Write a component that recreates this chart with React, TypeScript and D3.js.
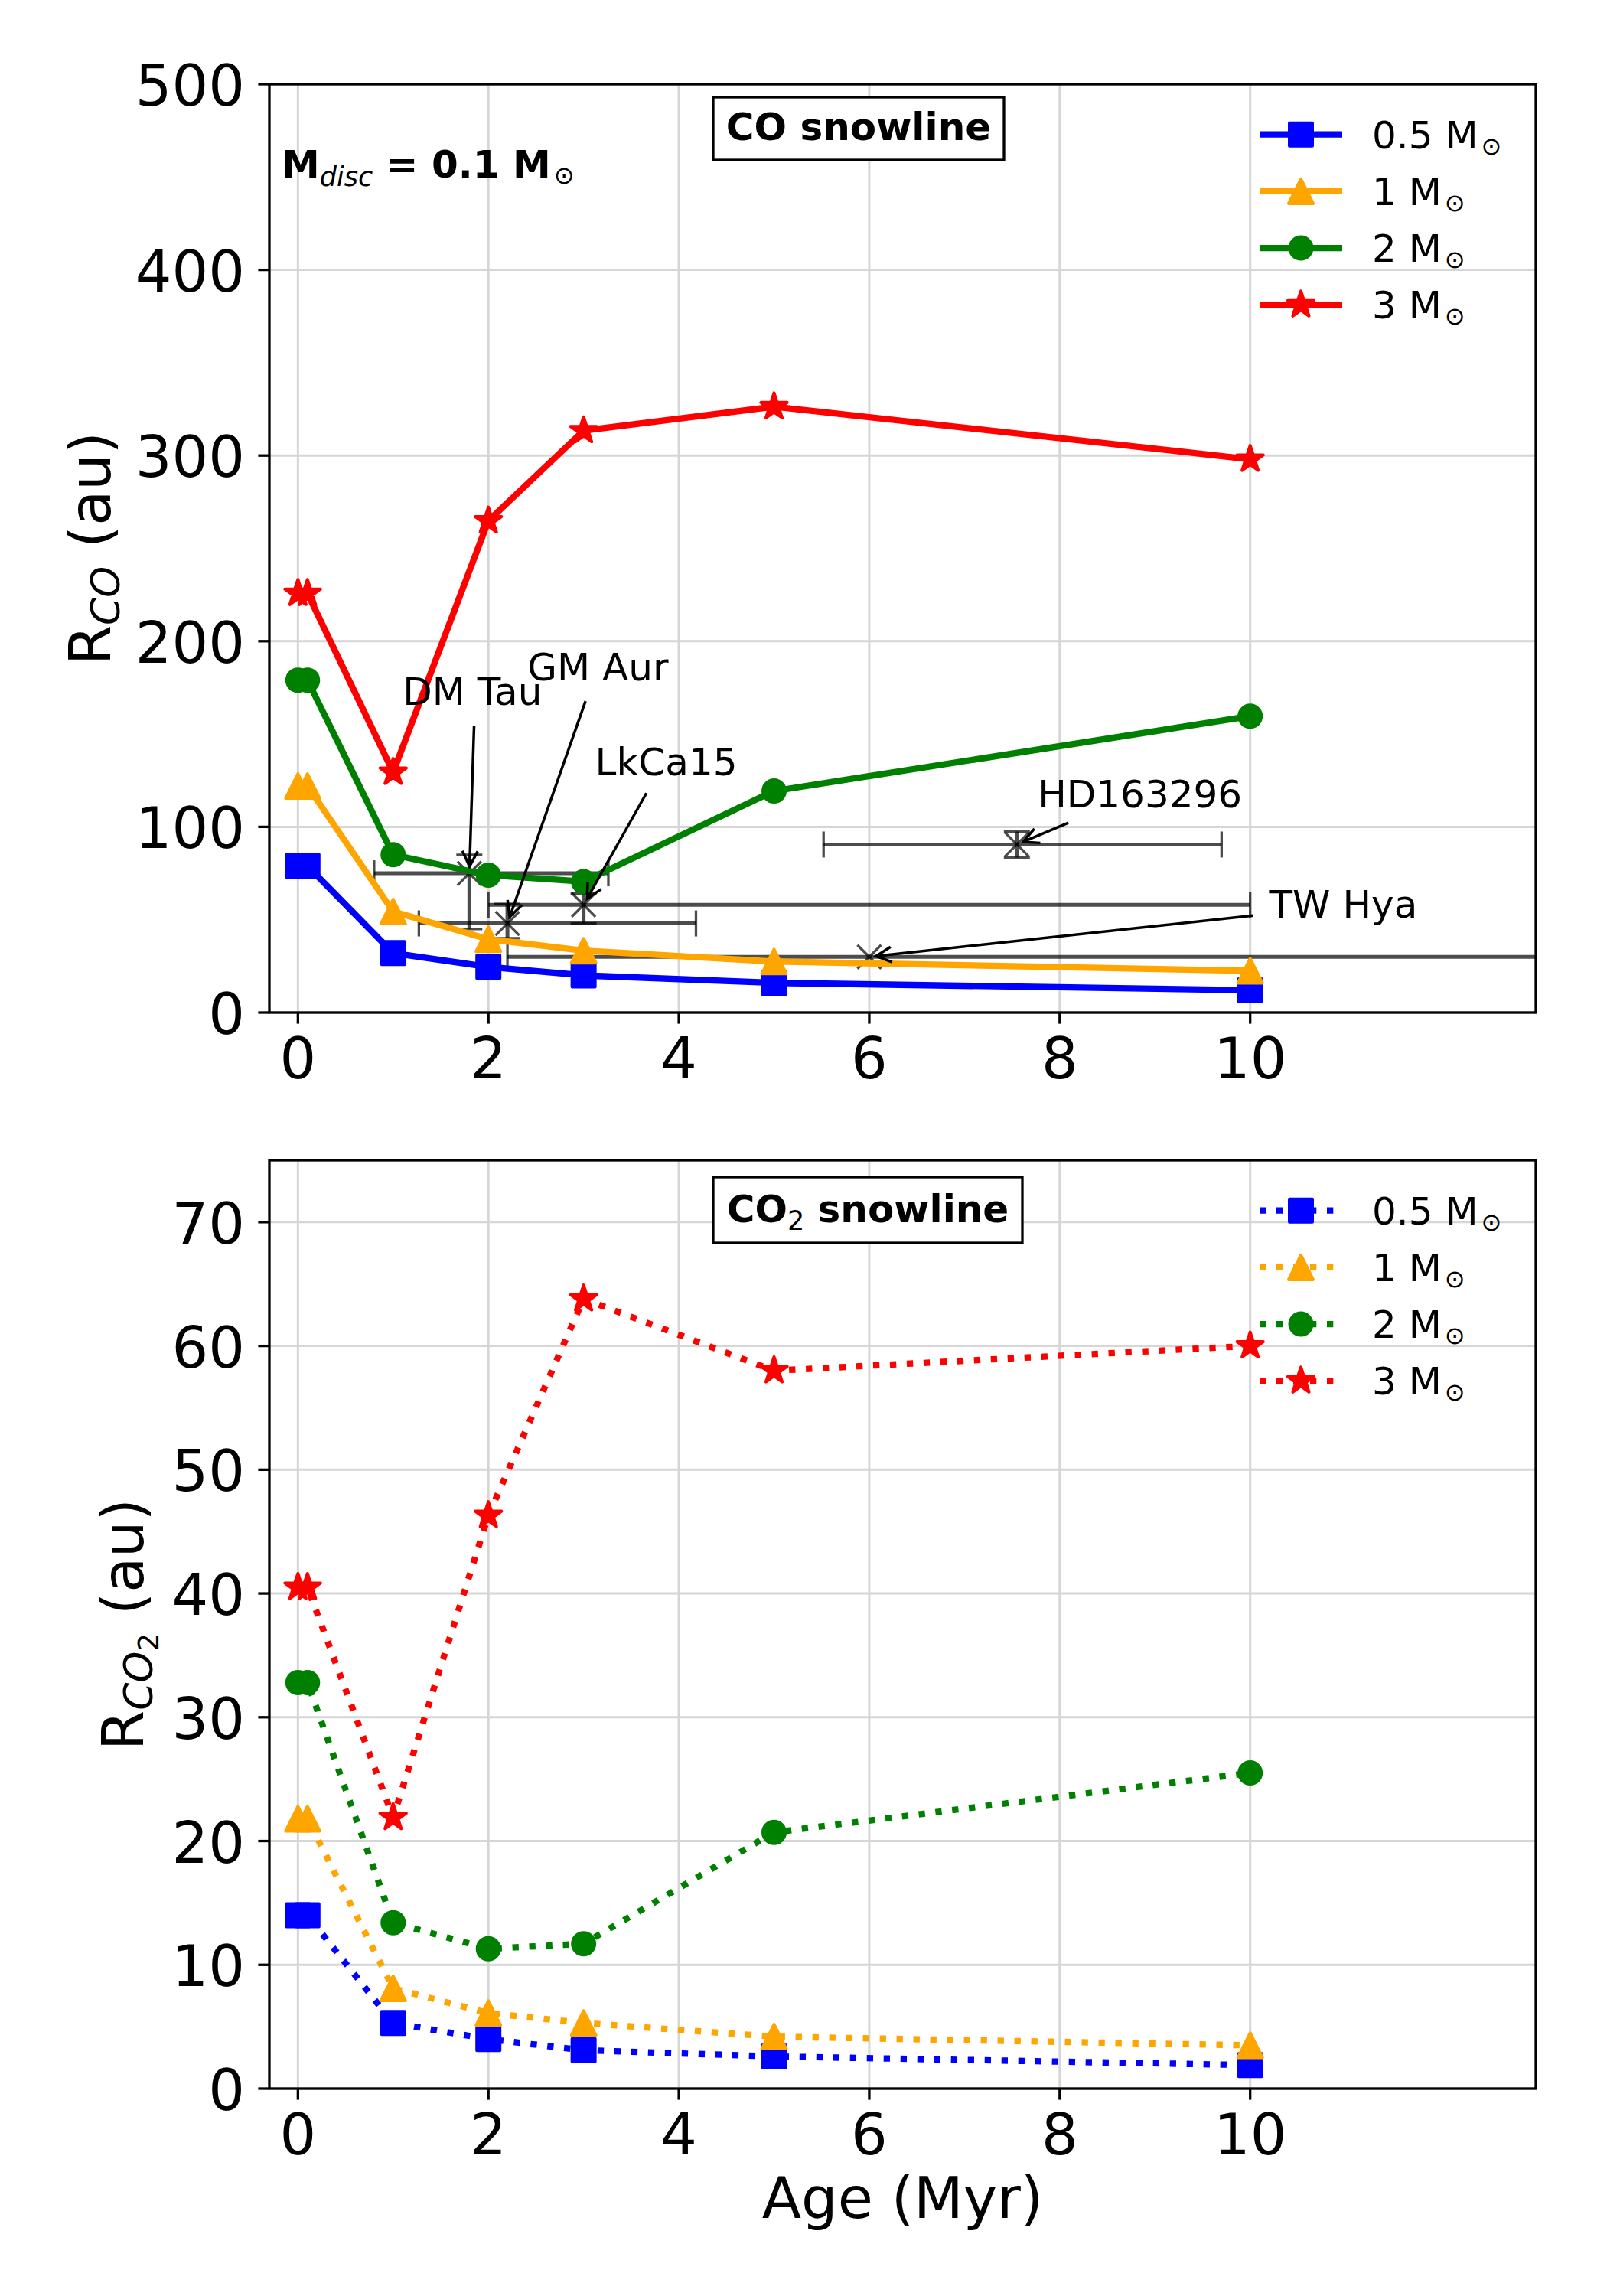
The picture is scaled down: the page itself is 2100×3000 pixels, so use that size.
import { useEffect } from 'react';
import * as d3 from 'd3';

// model ages (Myr); first two points sit almost on top of each other
const ages = [0, 0.1, 1, 2, 3, 5, 10];
const starMasses = ['0.5', '1', '2', '3'];
const seriesColors = ['blue', 'orange', 'green', 'red'];
const seriesMarkers = ['square', 'triangle', 'circle', 'star'];

// CO snowline radius (au)
const rCO_05 = [79, 79, 32, 24.6, 20, 16, 12];
const rCO_1 = [122, 122, 54.4, 39.5, 33.3, 27.5, 22.5];
const rCO_2 = [179, 179, 85, 74, 70.5, 119.3, 159.6];
const rCO_3 = [225.8, 225.8, 129.4, 264.8, 313.4, 326.3, 298];

// CO2 snowline radius (au)
const rCO2_05 = [14, 14, 5.3, 4, 3.1, 2.6, 1.9];
const rCO2_1 = [21.8, 21.8, 8.1, 6.1, 5.3, 4.2, 3.5];
const rCO2_2 = [32.8, 32.8, 13.4, 11.3, 11.7, 20.7, 25.5];
const rCO2_3 = [40.5, 40.5, 21.9, 46.3, 63.8, 58, 60];

// observed discs
const obsNames = ['DM Tau', 'GM Aur', 'LkCa15', 'HD163296', 'TW Hya'];
const obsAge = [1.8, 2.2, 3.0, 7.55, 6];
const obsR = [75, 48, 58, 90.5, 30];
const obsAgeLo = [1.0, 0.93, 1.0, 2.03, 3.8];
const obsAgeHi = [1.46, 1.98, 7.0, 2.15, 8];
const obsRLo = [30, 8, 10, 7, 0];
const obsRHi = [10, 10.5, 6, 7, 0];
// annotation text (left, baseline) and arrow tail, data coords
const labelAge = [1.1, 2.41, 3.12, 7.77, 10.2];
const labelR = [165.6, 178.8, 127.9, 110.4, 51];
const tailAge = [1.85, 3.02, 3.66, 8.09, 10.03];
const tailR = [154.5, 167.7, 118.2, 102.2, 52.2];

const xTicks = [0, 2, 4, 6, 8, 10];
const yTicksCO = [0, 100, 200, 300, 400, 500];
const yTicksCO2 = [0, 10, 20, 30, 40, 50, 60, 70];

const W = 2100;
const H = 3000;
const left = 352;
const right = 2007;
const font = 'DejaVu Sans';
const sun = '\u2299';

function markerPath(kind: string): string {
  if (kind === 'square') return 'M-15,-15H15V15H-15Z';
  if (kind === 'triangle') return 'M0,-16L16,16L-16,16Z';
  if (kind === 'star') {
    const pts = d3.range(10).map(i => {
      const a = -Math.PI / 2 + (i * Math.PI) / 5;
      const r = i % 2 === 0 ? 18 : 18 * 0.381966;
      return `${(r * Math.cos(a)).toFixed(2)},${(r * Math.sin(a)).toFixed(2)}`;
    });
    return 'M' + pts.join('L') + 'Z';
  }
  return d3.symbol().type(d3.symbolCircle).size(Math.PI * 14.5 * 14.5)() as string;
}

function Panel({ id, top, bottom, yMax, yTicks, values, dotted, obs }: {
  id: string; top: number; bottom: number; yMax: number; yTicks: number[];
  values: number[][]; dotted: boolean; obs: boolean;
}) {
  const x = d3.scaleLinear().domain([-0.3, 13]).range([left, right]);
  const y = d3.scaleLinear().domain([0, yMax]).range([bottom, top]);
  const line = d3.line<number>().x((_, i) => x(ages[i])).y(d => y(d));
  const dash = dotted ? '8.3 13.7' : undefined;
  const errCol = 'black';
  const errOp = 0.7;

  return (
    <g>
      <defs>
        <clipPath id={id}>
          <rect x={left} y={top} width={right - left} height={bottom - top} />
        </clipPath>
      </defs>
      {/* grid */}
      <g stroke="#d6d6d6" strokeWidth={3}>
        {xTicks.map(t => <line key={'gx' + t} x1={x(t)} x2={x(t)} y1={top} y2={bottom} />)}
        {yTicks.map(t => <line key={'gy' + t} x1={left} x2={right} y1={y(t)} y2={y(t)} />)}
      </g>

      {/* observations */}
      {obs && (
        <g clipPath={`url(#${id})`} stroke={errCol} strokeOpacity={errOp} fill="none">
          {obsNames.map((n, i) => {
            const cx = x(obsAge[i]);
            const cy = y(obsR[i]);
            const x0 = x(obsAge[i] - obsAgeLo[i]);
            const x1 = x(obsAge[i] + obsAgeHi[i]);
            const hasY = obsRLo[i] > 0 || obsRHi[i] > 0;
            const y0 = y(obsR[i] - obsRLo[i]);
            const y1 = y(obsR[i] + obsRHi[i]);
            return (
              <g key={n}>
                <line x1={x0} x2={x1} y1={cy} y2={cy} strokeWidth={5} />
                <line x1={x0} x2={x0} y1={cy - 17} y2={cy + 17} strokeWidth={3.3} />
                <line x1={x1} x2={x1} y1={cy - 17} y2={cy + 17} strokeWidth={3.3} />
                {hasY && (
                  <g>
                    <line x1={cx} x2={cx} y1={y0} y2={y1} strokeWidth={5} />
                    <line x1={cx - 17} x2={cx + 17} y1={y0} y2={y0} strokeWidth={3.3} />
                    <line x1={cx - 17} x2={cx + 17} y1={y1} y2={y1} strokeWidth={3.3} />
                  </g>
                )}
                <path d={`M${cx - 15.5},${cy - 15.5}L${cx + 15.5},${cy + 15.5}M${cx - 15.5},${cy + 15.5}L${cx + 15.5},${cy - 15.5}`} strokeWidth={3.3} />
              </g>
            );
          })}
        </g>
      )}

      {/* model series */}
      {values.map((vals, s) => (
        <g key={'s' + s}>
          <path d={line(vals) || ''} fill="none" stroke={seriesColors[s]} strokeWidth={8.3}
            strokeDasharray={dash} strokeLinejoin="round" strokeLinecap={dotted ? 'butt' : 'square'} />
          {vals.map((v, i) => (
            <path key={i} d={markerPath(seriesMarkers[s])} transform={`translate(${x(ages[i])},${y(v)})`}
              fill={seriesColors[s]} stroke={seriesColors[s]} strokeWidth={4} strokeLinejoin="round" />
          ))}
        </g>
      ))}

      {/* annotations */}
      {obs && obsNames.map((n, i) => {
        const tx = x(tailAge[i]);
        const ty = y(tailR[i]);
        const px = x(obsAge[i]);
        const py = y(obsR[i]);
        const len = Math.hypot(px - tx, py - ty);
        const ux = (px - tx) / len;
        const uy = (py - ty) / len;
        const hx = px - ux * 9;
        const hy = py - uy * 9;
        const bx = hx - ux * 20;
        const by = hy - uy * 20;
        const head = `M${bx - uy * 10},${by + ux * 10}L${hx},${hy}L${bx + uy * 10},${by - ux * 10}`;
        return (
          <g key={'a' + n}>
            <text x={x(labelAge[i])} y={y(labelR[i])} fontSize={50} fontFamily={font}>{n}</text>
            <line x1={tx} y1={ty} x2={hx} y2={hy} stroke="black" strokeWidth={3.5} />
            <path d={head} fill="none" stroke="black" strokeWidth={3.5} />
          </g>
        );
      })}

      {/* legend */}
      {starMasses.map((m, s) => {
        const ry = top + 65.7 + s * 74.2;
        return (
          <g key={'l' + m}>
            <line x1={1646} x2={1754} y1={ry} y2={ry} stroke={seriesColors[s]} strokeWidth={8.3}
              strokeDasharray={dash} />
            <path d={markerPath(seriesMarkers[s])} transform={`translate(1700,${ry})`}
              fill={seriesColors[s]} stroke={seriesColors[s]} strokeWidth={4} strokeLinejoin="round" />
            <text x={1793} y={ry + 18} fontSize={50} fontFamily={font}>
              {`${m} M`}<tspan fontSize={32} dx={4} dy={8}>{sun}</tspan>
            </text>
          </g>
        );
      })}

      {/* axes frame and ticks */}
      <rect x={left} y={top} width={right - left} height={bottom - top} fill="none" stroke="black" strokeWidth={3.3} />
      <g stroke="black" strokeWidth={3.3}>
        {xTicks.map(t => <line key={'tx' + t} x1={x(t)} x2={x(t)} y1={bottom} y2={bottom + 14.6} />)}
        {yTicks.map(t => <line key={'ty' + t} x1={left - 14.6} x2={left} y1={y(t)} y2={y(t)} />)}
      </g>
      <g fontSize={75} fontFamily={font}>
        {xTicks.map(t => (
          <text key={'lx' + t} x={x(t)} y={bottom + 85.5} textAnchor="middle">{t}</text>
        ))}
        {yTicks.map(t => (
          <text key={'ly' + t} x={320} y={y(t) + 28} textAnchor="end">{t}</text>
        ))}
      </g>
    </g>
  );
}

export default function App() {
  useEffect(() => {
    document.body.style.margin = '0';
  }, []);

  const top1 = 110, bottom1 = 1323;
  const top2 = 1516, bottom2 = 2729;

  return (
    <svg width={W} height={H} viewBox={`0 0 ${W} ${H}`} style={{ display: 'block', background: 'white' }}
      fontFamily={font}>
      <rect width={W} height={H} fill="white" />
      <Panel id="clipCO" top={top1} bottom={bottom1} yMax={500} yTicks={yTicksCO}
        values={[rCO_05, rCO_1, rCO_2, rCO_3]} dotted={false} obs={true} />
      <Panel id="clipCO2" top={top2} bottom={bottom2} yMax={75} yTicks={yTicksCO2}
        values={[rCO2_05, rCO2_1, rCO2_2, rCO2_3]} dotted={true} obs={false} />

      {/* panel titles */}
      <rect x={932} y={127} width={380} height={82} fill="white" stroke="black" strokeWidth={3.3} />
      <text x={1122} y={183} textAnchor="middle" fontSize={50} fontWeight="bold">CO snowline</text>
      <rect x={932} y={1538} width={404} height={86} fill="white" stroke="black" strokeWidth={3.3} />
      <text x={1134} y={1597} textAnchor="middle" fontSize={50} fontWeight="bold">
        CO<tspan fontSize={35} fontWeight="normal" dy={10}>2</tspan><tspan dy={-10}>{' snowline'}</tspan>
      </text>

      <text x={368} y={232} fontSize={50} fontWeight="bold">
        M<tspan fontSize={35} fontWeight="normal" fontStyle="italic" dy={11}>disc</tspan>
        <tspan dy={-11}>{' = 0.1 M'}</tspan><tspan fontSize={32} fontWeight="normal" dx={4} dy={8}>{sun}</tspan>
      </text>

      {/* axis labels */}
      <text transform={`translate(144,${(top1 + bottom1) / 2}) rotate(-90)`} textAnchor="middle" fontSize={75}>
        R<tspan fontSize={52} fontStyle="italic" dy={12}>CO</tspan><tspan dy={-12}>{' (au)'}</tspan>
      </text>
      <text transform={`translate(187,${(top2 + bottom2) / 2}) rotate(-90)`} textAnchor="middle" fontSize={75}>
        R<tspan fontSize={52} fontStyle="italic" dy={12}>CO</tspan><tspan fontSize={37} dy={8}>2</tspan>
        <tspan dy={-20}>{' (au)'}</tspan>
      </text>
      <text x={(left + right) / 2} y={2898} textAnchor="middle" fontSize={75}>Age (Myr)</text>
    </svg>
  );
}
